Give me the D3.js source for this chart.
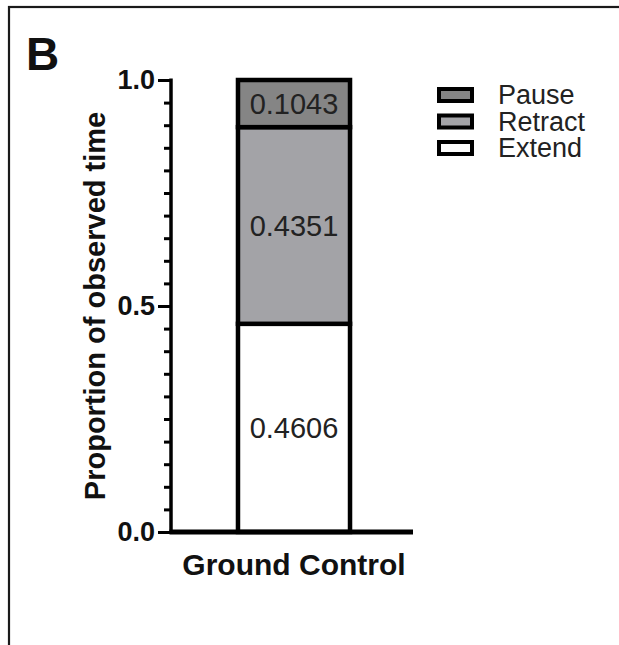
<!DOCTYPE html>
<html>
<head>
<meta charset="utf-8">
<script src="https://cdn.jsdelivr.net/npm/d3@7"></script>
<style>
  body { margin: 0; background: #fff; }
  svg { display: block; font-family: "Liberation Sans", Arial, sans-serif; }
</style>
</head>
<body>
<div id="chart"></div>
<script>
const CATEGORIES = ['Ground Control'];
const STATES = ['Extend', 'Retract', 'Pause'];      // bottom to top
const EXTEND = [0.4606];
const RETRACT = [0.4351];
const PAUSE = [0.1043];
const LEGEND_ORDER = ['Pause', 'Retract', 'Extend'];
const Y_TICKS = [0, 0.5, 1.0];

const FILLS = {
  Pause: '#858585',
  Retract: '#a3a3a7',
  Extend: '#ffffff',
};

const FONT = '"Liberation Sans", Arial, sans-serif';

function translate(x, y) {
  return "translate(" + x + "," + y + ")";
}

const width = 619;
const height = 645;

const margins = {
  left: 171,
  right: 206,
  top: 80,
  bottom: 113,
};

const svg = d3.select('#chart')
  .append('svg')
    .attr('width', width)
    .attr('height', height);

// panel frame, runs off the right and bottom edges
svg.append('rect')
    .attr('x', 9)
    .attr('y', 7)
    .attr('width', 800)
    .attr('height', 800)
    .attr('fill', 'none')
    .attr('stroke', '#1a1a1a')
    .attr('stroke-width', 2.2);

svg.append('text')
    .attr('x', 26)
    .attr('y', 70)
    .attr('font-size', 46)
    .attr('font-weight', 'bold')
    .attr('fill', '#111')
    .text('B');

const rows = CATEGORIES.map((c, i) => ({
  category: c,
  Extend: EXTEND[i],
  Retract: RETRACT[i],
  Pause: PAUSE[i],
}));

const series = d3.stack().keys(STATES)(rows);

const yScale = d3.scaleLinear()
  .domain([0, 1])
  .range([height - margins.bottom, margins.top]);

const xScale = d3.scaleBand()
  .domain(CATEGORIES)
  .range([margins.left + 2, width - margins.right + 2])
  .paddingInner(0)
  .paddingOuter(0.58);

// stacked bar segments
const g = svg.append('g')
    .attr('class', 'bars');

series.forEach((s) => {
  g.selectAll('.seg-' + s.key)
      .data(s)
    .enter()
    .append('rect')
      .attr('x', (d) => xScale(d.data.category))
      .attr('width', xScale.bandwidth())
      .attr('y', (d) => yScale(d[1]))
      .attr('height', (d) => yScale(d[0]) - yScale(d[1]))
      .attr('fill', FILLS[s.key])
      .attr('stroke', '#000')
      .attr('stroke-width', 4.5);

  g.selectAll('.lbl-' + s.key)
      .data(s)
    .enter()
    .append('text')
      .attr('x', (d) => xScale(d.data.category) + xScale.bandwidth() / 2)
      .attr('y', (d) => yScale((d[0] + d[1]) / 2) + 10.5)
      .attr('text-anchor', 'middle')
      .attr('font-size', 29)
      .attr('fill', '#222')
      .text((d) => (d[1] - d[0]).toFixed(4));
});

// y axis: long ticks at 0, 0.5, 1 and short ones every 0.05
const yAxis = d3.axisLeft(yScale)
  .tickValues(Y_TICKS)
  .tickFormat(d3.format('.1f'))
  .tickSize(13)
  .tickPadding(3);

const yMinor = d3.axisLeft(yScale)
  .tickValues(d3.range(0, 1.0001, 0.05))
  .tickFormat('')
  .tickSize(7)
  .tickSizeOuter(0);

svg.append('g')
    .attr('transform', translate(margins.left, 0))
    .call(yMinor)
    .call((ax) => ax.select('.domain').remove())
    .call((ax) => ax.selectAll('line').attr('stroke', '#000').attr('stroke-width', 3));

svg.append('g')
    .attr('class', 'y-axis')
    .attr('transform', translate(margins.left, 0))
    .call(yAxis)
    .call((ax) => ax.select('.domain')
      .attr('d', 'M0,' + (yScale(1) - 1.5) + 'V' + yScale(0))
      .attr('stroke', '#000')
      .attr('stroke-width', 3.5))
    .call((ax) => ax.selectAll('line').attr('stroke', '#000').attr('stroke-width', 3))
    .call((ax) => ax.selectAll('text')
      .attr('font-size', 27)
      .attr('font-weight', 'bold')
      .attr('fill', '#111')
      .attr('font-family', FONT));

// x axis baseline
const xAxis = d3.axisBottom(xScale)
  .tickSize(0)
  .tickPadding(22);

svg.append('g')
    .attr('class', 'x-axis')
    .attr('transform', translate(0, yScale(0)))
    .call(xAxis)
    .call((ax) => ax.select('.domain')
      .attr('d', 'M' + (margins.left - 1.5) + ',0H' + (width - margins.right))
      .attr('stroke', '#000')
      .attr('stroke-width', 5))
    .call((ax) => ax.selectAll('text')
      .attr('dy', '0.71em')
      .attr('font-size', 30)
      .attr('font-weight', 'bold')
      .attr('fill', '#111')
      .attr('font-family', FONT));

// y label
svg.append('text')
    .attr('transform', 'rotate(-90)')
    .attr('x', -(yScale(0.5)))
    .attr('y', 105)
    .attr('text-anchor', 'middle')
    .attr('font-size', 29)
    .attr('font-weight', 'bold')
    .attr('fill', '#111')
    .text('Proportion of observed time');

// legend
const legend = svg.append('g')
    .attr('class', 'legend')
    .attr('transform', translate(439, 89));

const item = legend.selectAll('.legend-item')
    .data(LEGEND_ORDER)
  .enter()
  .append('g')
    .attr('class', 'legend-item')
    .attr('transform', (d, i) => translate(0, i * 26.5));

item.append('rect')
    .attr('width', 33)
    .attr('height', 12)
    .attr('fill', (d) => FILLS[d])
    .attr('stroke', '#000')
    .attr('stroke-width', 4);

item.append('text')
    .attr('x', 59)
    .attr('y', 15)
    .attr('font-size', 27)
    .attr('fill', '#222')
    .text((d) => d);
</script>
</body>
</html>
